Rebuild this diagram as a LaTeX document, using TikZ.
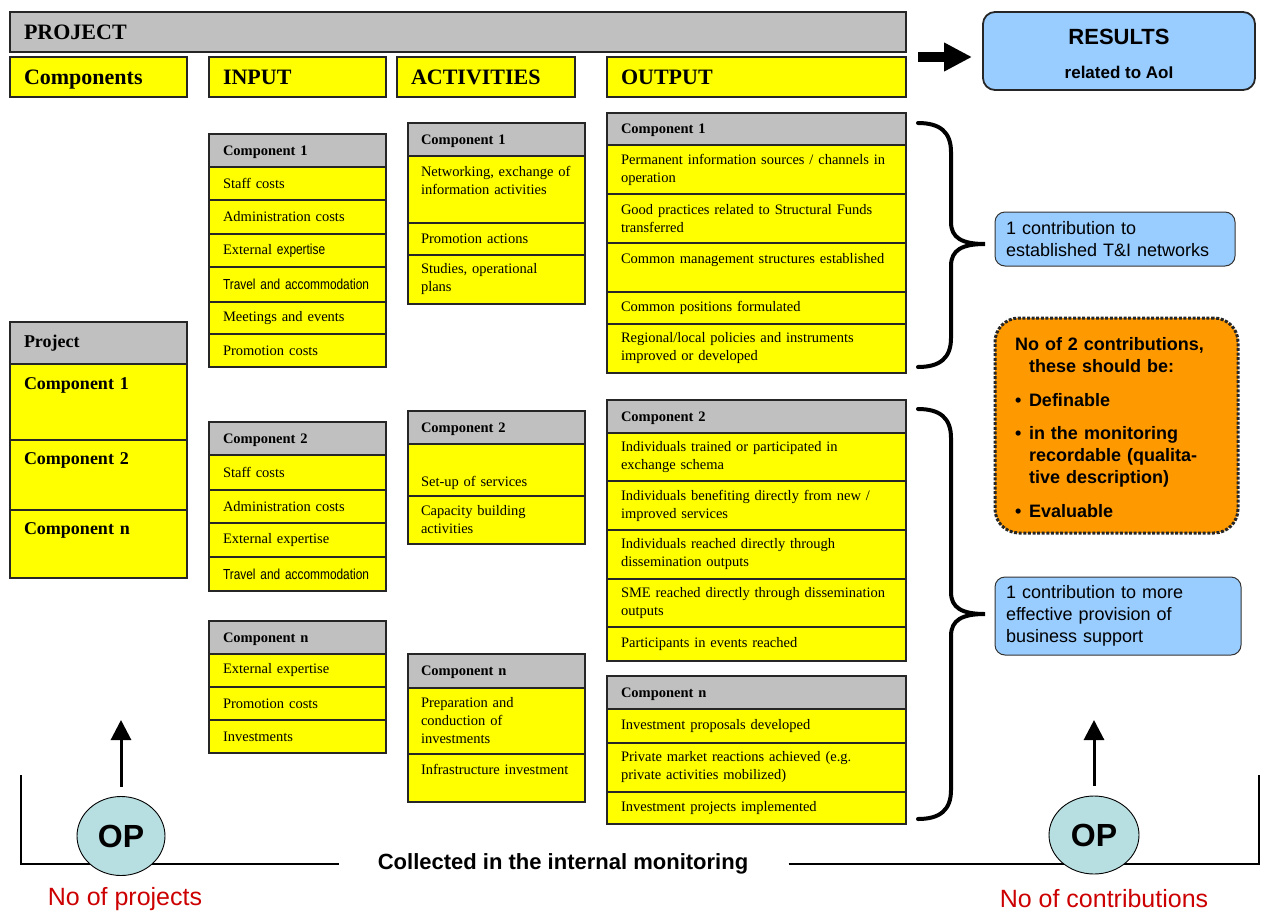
\documentclass[tikz,border=0pt]{standalone}
\usepackage{fontspec}
\setmainfont{Liberation Serif}
\setsansfont{Liberation Sans}
\newfontfamily\narrowfont[FakeStretch=0.82]{Liberation Sans}
\usetikzlibrary{positioning,shapes.geometric,arrows.meta}

\definecolor{hdrgray}{HTML}{C0C0C0}
\definecolor{cellyellow}{HTML}{FFFF00}
\definecolor{resblue}{HTML}{99CCFF}
\definecolor{noteorange}{HTML}{FF9900}
\definecolor{opcyan}{HTML}{B7DEE0}
\definecolor{labelred}{HTML}{CC0000}
\newcommand\itemsize{\fontsize{14.5}{18}\selectfont}

\begin{document}
\begin{tikzpicture}[x=1pt, y=-1pt,
  every node/.style = {outer sep=0pt},
  box/.style = {draw=black!85, line width=1.4pt, align=left, inner xsep=14pt,
                inner ysep=0pt, anchor=north west},
  colhead/.style = {box, fill=hdrgray, minimum height=33pt, text depth=0pt,
                    font=\itemsize\bfseries},
  item/.style = {box, fill=cellyellow, minimum height=#1, font=\itemsize},
  narrow/.style = {text width=149pt},
  wide/.style = {text width=271pt},
  heading/.style = {box, fill=cellyellow, minimum height=40pt, text width=149pt,
                    text height=15pt, text depth=0pt,
                    font=\fontsize{22}{24}\selectfont\bfseries},
  note/.style = {draw=black!80, line width=1pt, rounded corners=10pt, fill=resblue,
                 anchor=north west, align=left, inner xsep=11pt,
                 font=\sffamily\fontsize{18}{22}\selectfont},
  op/.style = {ellipse, draw, line width=0.9pt, fill=opcyan,
               font=\sffamily\bfseries\fontsize{32}{32}\selectfont},
  brace/.style = {line width=4pt, line cap=round},
  frame/.style = {line width=1.3pt},
  uparrow/.style = {line width=3pt, -{Triangle[length=20pt, width=20pt]}},
  count/.style = {text=labelred, font=\sffamily\fontsize{25}{25}\selectfont},
  ]
  \useasboundingbox (0,0) rectangle (1263,913);

  \node[heading, fill=hdrgray, text width=868pt] (proj) at (10,12) {PROJECT};
  \node[heading] (hcomp) at (10,57) {Components};
  \node[heading] (hin) at (209,57) {INPUT};
  \node[heading, text width=150pt] (hact) at (397,57) {ACTIVITIES};
  \node[heading, text width=271pt] (hout) at (607,57) {OUTPUT};

  \node[draw=black!85, line width=1.8pt, rounded corners=12pt, fill=resblue,
        anchor=north west, minimum width=272pt, minimum height=78pt, align=center,
        text height=54pt, text depth=0pt,
        font=\sffamily\bfseries\fontsize{17}{24}\selectfont] (res) at (983,12)
        {{\fontsize{22}{24}\selectfont RESULTS}\\[10pt]related to AoI};
  \coordinate (arrs) at (918,57);
  \coordinate (arre) at (972,57);
  \draw[line width=10pt, -{Triangle[length=28pt, width=27pt]}] (arrs) -- (arre);

  \node[colhead, narrow, minimum height=42pt, text depth=4pt,
        font=\fontsize{18}{22}\selectfont\bfseries] (ph) at (10,322) {Project};
  \node[item=76pt, narrow, font=\fontsize{18}{22}\selectfont\bfseries, below=0pt of ph]
        (pa) {Component 1\\[15pt]\mbox{}};
  \node[item=70pt, narrow, font=\fontsize{18}{22}\selectfont\bfseries, below=0pt of pa]
        (pb) {Component 2\\[10pt]\mbox{}};
  \node[item=68pt, narrow, font=\fontsize{18}{22}\selectfont\bfseries, below=0pt of pb]
        (pc) {Component n\\[8pt]\mbox{}};

  \node[colhead, narrow] (i1h) at (209,134) {Component 1};
  \node[item=33pt, narrow, below=0pt of i1h] (i1a) {Staff costs};
  \node[item=34pt, narrow, below=0pt of i1a] (i1b) {Administration costs};
  \node[item=33pt, narrow, below=0pt of i1b] (i1c) {External {\narrowfont expertise}};
  \node[item=35pt, narrow, below=0pt of i1c] (i1d) {{\narrowfont Travel and accommodation}};
  \node[item=32pt, narrow, below=0pt of i1d] (i1e) {Meetings and events};
  \node[item=33pt, narrow, below=0pt of i1e] (i1f) {Promotion costs};

  \node[colhead, narrow] (i2h) at (209,422) {Component 2};
  \node[item=35pt, narrow, below=0pt of i2h] (i2a) {Staff costs};
  \node[item=33pt, narrow, below=0pt of i2a] (i2b) {Administration costs};
  \node[item=34pt, narrow, below=0pt of i2b] (i2c) {External expertise};
  \node[item=34pt, narrow, below=0pt of i2c] (i2d) {{\narrowfont Travel and accommodation}};

  \node[colhead, narrow] (inh) at (209,621) {Component n};
  \node[item=33pt, narrow, below=0pt of inh] (ina) {External expertise};
  \node[item=33pt, narrow, below=0pt of ina] (inb) {Promotion costs};
  \node[item=33pt, narrow, below=0pt of inb] (inc) {Investments};

  \node[colhead, text width=151pt, inner xsep=13pt] (a1h) at (408,123) {Component 1};
  \node[item=67pt, text width=151pt, inner xsep=13pt, below=0pt of a1h] (a1a)
        {Networking, exchange of\\information activities\\\mbox{}};
  \node[item=32pt, text width=151pt, inner xsep=13pt, below=0pt of a1a] (a1b) {Promotion actions};
  \node[item=49pt, text width=151pt, inner xsep=13pt, below=0pt of a1b] (a1c) {Studies, operational\\plans};

  \node[colhead, text width=151pt, inner xsep=13pt] (a2h) at (408,411) {Component 2};
  \node[item=52pt, text width=151pt, inner xsep=13pt, below=0pt of a2h] (a2a)
        {\mbox{}\\[18pt]Set-up of services};
  \node[item=48pt, text width=151pt, inner xsep=13pt, below=0pt of a2a] (a2b) {Capacity building\\activities};

  \node[colhead, text width=151pt, inner xsep=13pt, minimum height=34pt] (anh) at (408,654) {Component n};
  \node[item=66pt, text width=151pt, inner xsep=13pt, below=0pt of anh] (ana)
        {Preparation and\\conduction of\\investments};
  \node[item=48pt, text width=151pt, inner xsep=13pt, below=0pt of ana] (anb)
        {Infrastructure investment\\\mbox{}};

  \node[colhead, wide, minimum height=32pt] (o1h) at (607,113) {Component 1};
  \node[item=49pt, wide, below=0pt of o1h] (o1a) {Permanent information sources / channels in\\operation};
  \node[item=49pt, wide, below=0pt of o1a] (o1b) {Good practices related to Structural Funds\\transferred};
  \node[item=49pt, wide, below=0pt of o1b] (o1c) {Common management structures established\\\mbox{}};
  \node[item=32pt, wide, below=0pt of o1c] (o1d) {Common positions formulated};
  \node[item=49pt, wide, below=0pt of o1d] (o1e) {Regional/local policies and instruments\\improved or developed};

  \node[colhead, wide] (o2h) at (607,400) {Component 2};
  \node[item=48pt, wide, below=0pt of o2h] (o2a) {Individuals trained or participated in\\exchange schema};
  \node[item=49pt, wide, below=0pt of o2a] (o2b) {Individuals benefiting directly from new /\\improved services};
  \node[item=49pt, wide, below=0pt of o2b] (o2c) {Individuals reached directly through\\dissemination outputs};
  \node[item=48pt, wide, below=0pt of o2c] (o2d) {SME reached directly through dissemination\\outputs};
  \node[item=34pt, wide, below=0pt of o2d] (o2e) {Participants in events reached};

  \node[colhead, wide] (onh) at (607,676) {Component n};
  \node[item=34pt, wide, below=0pt of onh] (ona) {Investment proposals developed};
  \node[item=49pt, wide, below=0pt of ona] (onb) {Private market reactions achieved (e.g.\\private activities mobilized)};
  \node[item=32pt, wide, below=0pt of onb] (onc) {Investment projects implemented};

  \draw[brace] (918,123) .. controls (940,123) and (951,132) .. (951,152) -- (951,222)
    .. controls (951,238) and (962,244) .. (985,244)
    .. controls (962,244) and (951,250) .. (951,266) -- (951,338)
    .. controls (951,358) and (940,367) .. (918,367);
  \draw[brace] (918,409) .. controls (940,409) and (951,418) .. (951,438) -- (951,592)
    .. controls (951,608) and (962,614) .. (985,614)
    .. controls (962,614) and (951,620) .. (951,636) -- (951,790)
    .. controls (951,810) and (940,819) .. (918,819);

  \node[note, text width=218pt, minimum height=54pt] (c1) at (995,212)
        {1 contribution to\\established T\&I networks};
  \node[note, text width=224pt, minimum height=78pt] (c2) at (995,577)
        {1 contribution to more\\effective provision of\\business support};
  \node[draw=black!85, line width=3pt, dash pattern=on 3pt off 1.6pt, rounded corners=24pt,
        fill=noteorange, anchor=north west, text width=203pt, inner xsep=20pt,
        minimum height=215pt, align=left, text depth=163pt,
        font=\sffamily\bfseries\fontsize{18}{22}\selectfont] (crit) at (995,318)
        {No of 2 contributions,\\\hspace*{14pt}these should be:\\[11.5pt]
         \makebox[14pt][l]{\textbullet}Definable\\[11.5pt]
         \makebox[14pt][l]{\textbullet}in the monitoring\\
         \hspace*{14pt}recordable (qualita-\\
         \hspace*{14pt}tive description)\\[11.5pt]
         \makebox[14pt][l]{\textbullet}Evaluable};

  \node[font=\sffamily\bfseries\fontsize{22}{24}\selectfont] (coll) at (563,864)
        {Collected in the internal monitoring};
  \draw[frame] (21,775) |- ([xshift=-35pt]coll.west);
  \draw[frame] ([xshift=37pt]coll.east) -| (1259,775);

  \node[op, minimum width=88pt, minimum height=79pt] (op1) at (121,836) {OP};
  \node[op, minimum width=90pt, minimum height=78pt] (op2) at (1094,835) {OP};
  \coordinate (t1) at (121,720);
  \coordinate (t2) at (1094,720);
  \draw[uparrow] ([yshift=10pt]op1.north) -- (t1);
  \draw[uparrow] ([yshift=10pt]op2.north) -- (t2);

  \node[count] (np) at (125,899) {No of projects};
  \node[count] (nc) at (1104,899) {No of contributions};
\end{tikzpicture}
\end{document}
